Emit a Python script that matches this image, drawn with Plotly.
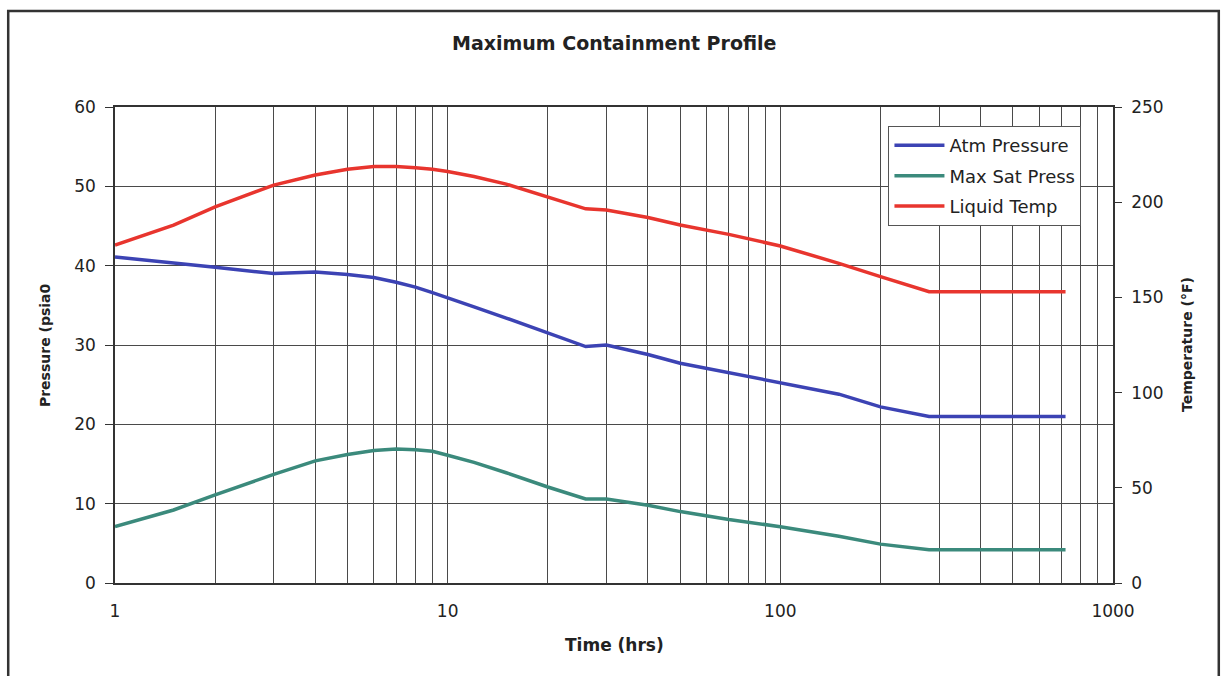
import plotly.graph_objects as go

time_hrs = [1, 1.5, 2, 3, 4, 5, 6, 7, 8, 9, 10, 12, 15, 20, 26, 30, 40, 50, 70, 100, 150, 200, 280, 400, 500, 720]
atm_pressure = [41.1, 40.4, 39.8, 39.0, 39.2, 38.9, 38.5, 37.9, 37.3, 36.6, 35.9, 34.8, 33.4, 31.5, 29.8, 30.0, 28.8, 27.7, 26.5, 25.3, 23.8, 22.2, 21.0, 21.0, 21.0, 21.0]
max_sat_press = [7.1, 9.2, 11.1, 13.7, 15.4, 16.2, 16.7, 16.9, 16.8, 16.6, 16.1, 15.2, 13.9, 12.1, 10.6, 10.6, 9.8, 9.0, 8.0, 7.1, 5.9, 4.9, 4.2, 4.2, 4.2, 4.2]
liquid_temp = [177.5, 188.0, 197.5, 209.0, 214.3, 217.3, 218.7, 218.8, 218.1, 217.3, 216.1, 213.5, 209.5, 202.6, 196.5, 195.9, 192.0, 188.0, 183.1, 177.0, 167.9, 160.9, 153.0, 153.0, 153.0, 153.0]

x_major = [1, 10, 100, 1000]
x_minor = [m * d for d in (1, 10, 100) for m in range(2, 10)]
left_ticks = [0, 10, 20, 30, 40, 50, 60]
right_ticks = [0, 50, 100, 150, 200, 250]

FONT = "DejaVu Sans, Verdana, sans-serif"
GRID = "#4a4a4a"
TXT = "#222222"

fig = go.Figure()
fig.add_trace(go.Scatter(x=time_hrs, y=atm_pressure, name="Atm Pressure", mode="lines",
                         legendgroup="a", line=dict(color="#3c43b4", width=3.5)))
fig.add_trace(go.Scatter(x=time_hrs, y=max_sat_press, name="Max Sat Press", mode="lines",
                         legendgroup="b", line=dict(color="#3b8a7c", width=3.5)))
fig.add_trace(go.Scatter(x=time_hrs, y=liquid_temp, name="Liquid Temp", mode="lines", yaxis="y2",
                         legendgroup="c", line=dict(color="#e8352e", width=3.5)))

fig.update_layout(
    width=1223, height=676,
    margin=dict(l=115, r=110, t=107, b=93),
    paper_bgcolor="white", plot_bgcolor="white",
    font=dict(family=FONT, size=17, color=TXT),
    showlegend=True,
    legend=dict(x=0.775, y=0.96, xanchor="left", yanchor="top",
                bgcolor="white", bordercolor="#555555", borderwidth=1,
                itemwidth=50,
                font=dict(family=FONT, size=18, color=TXT), tracegroupgap=4),
    xaxis=dict(type="log", range=[0, 3], tickvals=x_major, ticktext=[str(v) for v in x_major],
               showgrid=True, gridcolor=GRID, gridwidth=1,
               minor=dict(tickvals=x_minor, showgrid=True, gridcolor=GRID, gridwidth=1),
               showline=True, linecolor="#333333", linewidth=1.5, mirror=True,
               ticks="", ticklabelstandoff=12, zeroline=False),
    yaxis=dict(range=[0, 60], tickvals=left_ticks, showgrid=True, gridcolor=GRID, gridwidth=1,
               showline=True, linecolor="#333333", linewidth=1.5,
               ticks="outside", ticklen=8, tickcolor="#333333", ticklabelstandoff=6, zeroline=False),
    yaxis2=dict(range=[0, 250], tickvals=right_ticks, overlaying="y", side="right",
                showgrid=False, showline=True, linecolor="#333333", linewidth=1.5,
                ticks="outside", ticklen=7, tickcolor="#333333", ticklabelstandoff=6, zeroline=False),
    annotations=[
        dict(text="<b>Maximum Containment Profile</b>", x=0.5, y=1.1345, xref="paper", yref="paper",
             xanchor="center", yanchor="middle", showarrow=False,
             font=dict(family=FONT, size=19, color=TXT)),
        dict(text="<b>Time (hrs)</b>", x=0.5, y=-0.1303, xref="paper", yref="paper",
             xanchor="center", yanchor="middle", showarrow=False,
             font=dict(family=FONT, size=17, color=TXT)),
        dict(text="<b>Pressure (psia0</b>", x=-0.0701, y=0.5, xref="paper", yref="paper",
             xanchor="center", yanchor="middle", textangle=-90, showarrow=False,
             font=dict(family=FONT, size=14, color=TXT)),
        dict(text="<b>Temperature (°F)</b>", x=1.0742, y=0.5, xref="paper", yref="paper",
             xanchor="center", yanchor="middle", textangle=-90, showarrow=False,
             font=dict(family=FONT, size=14, color=TXT)),
    ],
    shapes=[
        dict(type="rect", xref="paper", yref="paper", x0=-0.107, x1=1.106, y0=-0.21, y1=1.2017,
             line=dict(color="#333333", width=2.5), fillcolor="rgba(0,0,0,0)", layer="below"),
    ],
)

fig.write_html("out.html")
